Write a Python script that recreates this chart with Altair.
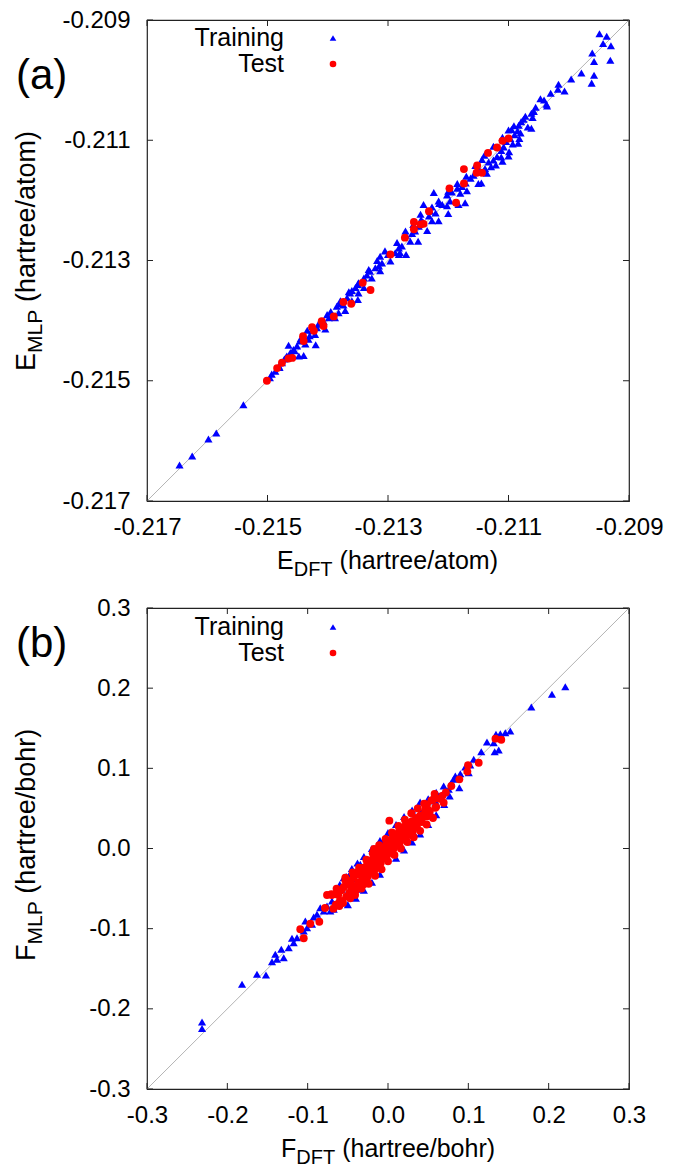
import altair as alt
import pandas as pd

FONT = "Liberation Sans"

# ---------------- Panel (a): energies (hartree/atom) ----------------
e_train_dft = [
    -0.20949, -0.20937, -0.20943, -0.20930, -0.20961, -0.20958, -0.20931, -0.20979, -0.20958, -0.20996,
    -0.20962, -0.21017, -0.21018, -0.21007, -0.21047, -0.21041, -0.21037, -0.21036, -0.21058, -0.21062,
    -0.21060, -0.21072, -0.21079, -0.21083, -0.21068, -0.21062, -0.21091, -0.21100, -0.21085, -0.21080,
    -0.21090, -0.21097, -0.21082, -0.21104, -0.21093, -0.21084, -0.21108, -0.21112, -0.21099, -0.21100,
    -0.21119, -0.21125, -0.21112, -0.21133, -0.21144, -0.21121, -0.21129, -0.21139, -0.21148, -0.21136,
    -0.21158, -0.21163, -0.21145, -0.21171, -0.21177, -0.21185, -0.21169, -0.21194, -0.21180, -0.21202,
    -0.21224, -0.21241, -0.21227, -0.21216, -0.21210, -0.21202, -0.21197, -0.21183, -0.21172, -0.21221,
    -0.21232, -0.21246, -0.21216, -0.21227, -0.21241, -0.21249, -0.21235, -0.21255, -0.21260, -0.21271,
    -0.21263, -0.21277, -0.21282, -0.21280, -0.21288, -0.21305, -0.21282, -0.21313, -0.21296, -0.21310,
    -0.21315, -0.21321, -0.21313, -0.21332, -0.21335, -0.21327, -0.21340, -0.21349, -0.21354, -0.21340,
    -0.21360, -0.21363, -0.21349, -0.21368, -0.21379, -0.21360, -0.21374, -0.21385, -0.21371, -0.21382,
    -0.21388,
    -0.21401, -0.21398, -0.21407, -0.21412, -0.21418, -0.21404, -0.21426, -0.21434, -0.21421, -0.21440,
    -0.21432, -0.21446, -0.21451, -0.21437, -0.21465, -0.21457, -0.21448, -0.21462, -0.21468, -0.21472,
    -0.21476, -0.21481, -0.21487, -0.21493, -0.21496, -0.21540, -0.21585, -0.21598, -0.21625, -0.21646,
    -0.21480, -0.21470, -0.21455, -0.21445, -0.21430, -0.21415, -0.21395, -0.21380, -0.21365, -0.21350,
    -0.21330, -0.21318, -0.21300, -0.21285, -0.21270, -0.21258, -0.21245, -0.21230, -0.21215, -0.21200,
    -0.21185, -0.21170, -0.21155, -0.21140, -0.21125, -0.21110, -0.21095, -0.21075, -0.21055, -0.21030,
    -0.21420, -0.21350, -0.21270, -0.21200, -0.21150, -0.21110, -0.21250, -0.21440,
]
e_train_mlp = [
    -0.20923, -0.20927, -0.20939, -0.20943, -0.20955, -0.20969, -0.20967, -0.20988, -0.20992, -0.20998,
    -0.21005, -0.21007, -0.21015, -0.21018, -0.21031, -0.21033, -0.21040, -0.21043, -0.21052, -0.21055,
    -0.21062, -0.21060, -0.21069, -0.21075, -0.21078, -0.21080, -0.21076, -0.21083, -0.21084, -0.21088,
    -0.21091, -0.21097, -0.21097, -0.21102, -0.21106, -0.21105, -0.21111, -0.21117, -0.21119, -0.21126,
    -0.21127, -0.21133, -0.21128, -0.21136, -0.21132, -0.21141, -0.21144, -0.21147, -0.21150, -0.21155,
    -0.21158, -0.21163, -0.21171, -0.21171, -0.21177, -0.21180, -0.21184, -0.21186, -0.21188, -0.21191,
    -0.21187, -0.21207, -0.21211, -0.21201, -0.21207, -0.21209, -0.21201, -0.21207, -0.21204, -0.21221,
    -0.21226, -0.21223, -0.21234, -0.21234, -0.21237, -0.21243, -0.21250, -0.21251, -0.21255, -0.21251,
    -0.21268, -0.21276, -0.21279, -0.21287, -0.21287, -0.21284, -0.21290, -0.21293, -0.21301, -0.21304,
    -0.21309, -0.21312, -0.21317, -0.21315, -0.21324, -0.21329, -0.21329, -0.21337, -0.21345, -0.21345,
    -0.21350, -0.21354, -0.21354, -0.21362, -0.21367, -0.21367, -0.21374, -0.21376, -0.21383, -0.21387,
    -0.21395,
    -0.21390, -0.21395, -0.21401, -0.21406, -0.21412, -0.21414, -0.21417, -0.21416, -0.21423, -0.21426,
    -0.21431, -0.21434, -0.21442, -0.21439, -0.21441, -0.21448, -0.21459, -0.21453, -0.21459, -0.21464,
    -0.21470, -0.21476, -0.21484, -0.21489, -0.21495, -0.21540, -0.21587, -0.21597, -0.21625, -0.21640,
    -0.21478, -0.21462, -0.21450, -0.21430, -0.21425, -0.21405, -0.21385, -0.21372, -0.21352, -0.21340,
    -0.21318, -0.21300, -0.21290, -0.21270, -0.21258, -0.21240, -0.21232, -0.21218, -0.21205, -0.21185,
    -0.21172, -0.21160, -0.21142, -0.21125, -0.21110, -0.21095, -0.21082, -0.21065, -0.21045, -0.21022,
    -0.21440, -0.21365, -0.21290, -0.21222, -0.21172, -0.21135, -0.21268, -0.21458,
]
e_test_dft = [
    -0.21100, -0.21110, -0.21119, -0.21134, -0.21152, -0.21174, -0.21153, -0.21144, -0.21174, -0.21198,
    -0.21187, -0.21232, -0.21257, -0.21246, -0.21241, -0.21257, -0.21272, -0.21296, -0.21342, -0.21329,
    -0.21374, -0.21361, -0.21390,
    -0.21407, -0.21410, -0.21423, -0.21426, -0.21441, -0.21440, -0.21459, -0.21465, -0.21476, -0.21484,
    -0.21501,
]
e_test_mlp = [
    -0.21097, -0.21101, -0.21112, -0.21121, -0.21142, -0.21148, -0.21154, -0.21154, -0.21172, -0.21180,
    -0.21204, -0.21218, -0.21236, -0.21240, -0.21239, -0.21248, -0.21262, -0.21290, -0.21337, -0.21349,
    -0.21369, -0.21372, -0.21393,
    -0.21409, -0.21401, -0.21417, -0.21411, -0.21426, -0.21434, -0.21462, -0.21463, -0.21470, -0.21479,
    -0.21500,
]
e_ticks = [-0.217, -0.215, -0.213, -0.211, -0.209]

# ---------------- Panel (b): forces (hartree/bohr) ----------------
f_train_dft = [
    0.2207, 0.2041, 0.1784, 0.1522, 0.1460, 0.1398, 0.1344, 0.1232, 0.1316, 0.1378,
    0.1328, 0.1161, 0.1067, 0.1024, 0.0962, 0.1005, 0.0900, 0.0838, 0.0818, 0.0788,
    0.0888, 0.0756, 0.0693, 0.0706, 0.0768, 0.0639, 0.0589, 0.0548, 0.0507, 0.0464,
    0.0402, 0.0340, 0.0361, 0.0299, 0.0258,
    -0.1817, -0.1631, -0.1519, -0.1444, -0.1382, -0.1298, -0.1403, -0.1328, -0.1236, -0.1174,
    -0.1195, -0.1133, -0.1049, -0.1008, -0.1029, -0.0946, -0.0925, -0.0884, -0.0843, -0.0800,
    -0.0759, -0.0697, -0.0718, -0.0676, -0.0635, -0.0573, -0.0551, -0.0489, -0.0386, -0.0345,
    -0.0240, -0.0075, 0.0009, 0.0112, 0.0320, -0.2315, -0.2315,
    -0.0450, -0.0300, -0.0150, 0.0000, 0.0150, 0.0300, 0.0450, -0.0620, 0.0560, -0.0050,
    -0.0600, -0.0520, -0.0450, -0.0380, -0.0300, -0.0200, -0.0100, 0.0000, 0.0100, 0.0200,
    0.0300, 0.0400, 0.0500, 0.0600, 0.0100, 0.0200, 0.0300, 0.0400, 0.0500, 0.0600,
    0.0700, -0.0100, -0.0200, -0.0300, -0.0400, -0.0500,
]
f_train_mlp = [
    0.2018, 0.1923, 0.1765, 0.1466, 0.1444, 0.1432, 0.1425, 0.1328, 0.1320, 0.1229,
    0.1207, 0.1207, 0.1113, 0.1042, 0.1017, 0.0946, 0.0933, 0.0904, 0.0863, 0.0821,
    0.0758, 0.0738, 0.0780, 0.0696, 0.0655, 0.0655, 0.0593, 0.0418, 0.0405, 0.0509,
    0.0447, 0.0384, 0.0259, 0.0239, 0.0094,
    -0.1694, -0.1569, -0.1578, -0.1412, -0.1382, -0.1362, -0.1320, -0.1257, -0.1237, -0.1175,
    -0.1120, -0.1113, -0.1029, -0.0988, -0.0904, -0.0946, -0.0854, -0.0821, -0.0738, -0.0780,
    -0.0717, -0.0655, -0.0780, -0.0758, -0.0551, -0.0509, -0.0364, -0.0343, -0.0509, -0.0197,
    -0.0156, 0.0072, 0.0094, 0.0156, 0.0197, -0.2164, -0.2245,
    -0.0380, -0.0240, -0.0090, 0.0060, 0.0200, 0.0350, 0.0500, -0.0520, 0.0610, 0.0040,
    -0.0450, -0.0350, -0.0250, -0.0180, -0.0100, 0.0000, 0.0100, 0.0200, 0.0300, 0.0400,
    0.0480, 0.0580, 0.0620, 0.0700, -0.0120, -0.0020, 0.0080, 0.0180, 0.0300, 0.0420,
    0.0550, -0.0320, -0.0420, -0.0520, -0.0620, -0.0700,
]
f_test_dft = [
    0.1410, 0.1129, 0.0996, 0.0888, 0.0788, 0.0693, 0.0569, 0.0589, 0.0485, 0.0464,
    -0.1092, -0.1049, -0.0967, -0.0855, -0.0759, -0.0706, -0.0573, -0.0606, -0.0531, -0.0407,
    -0.0302, 0.0017, -0.0784, -0.0656, -0.0174, 0.0988, 0.1338,
    -0.058, -0.062, -0.065, -0.060, -0.055, -0.052, -0.050, -0.048, -0.046, -0.045,
    -0.043, -0.042, -0.040, -0.038, -0.037, -0.035, -0.034, -0.032, -0.030, -0.029,
    -0.028, -0.026, -0.025, -0.024, -0.022, -0.021, -0.020, -0.018, -0.017, -0.016,
    -0.014, -0.013, -0.012, -0.010, -0.009, -0.008, -0.006, -0.005, -0.004, -0.002,
    -0.001, 0.000, 0.002, 0.003, 0.004, 0.006, 0.007, 0.008, 0.010, 0.011,
    0.012, 0.014, 0.015, 0.016, 0.018, 0.019, 0.020, 0.022, 0.023, 0.024,
    0.026, 0.027, 0.028, 0.030, 0.031, 0.033, 0.035, 0.036, 0.038, 0.040,
    0.042, 0.044, 0.046, 0.048, 0.050, 0.052,
    -0.070, -0.068, -0.064, -0.056, -0.053, -0.047, -0.044, -0.041, -0.036, -0.033,
    -0.027, -0.024, -0.019, -0.016, -0.011, -0.008, -0.003, 0.000, 0.005, 0.008,
    0.013, 0.016, 0.021, 0.024, 0.029, 0.032, 0.037, 0.040, 0.045, 0.048,
    0.054, 0.056, 0.060, 0.064, 0.068, 0.072, 0.058,
]
f_test_mlp = [
    0.1357, 0.1070, 0.1038, 0.0863, 0.0780, 0.0571, 0.0614, 0.0509, 0.0551, 0.0489,
    -0.1008, -0.1120, -0.0938, -0.0913, -0.0580, -0.0571, -0.0655, -0.0717, -0.0364, -0.0302,
    -0.0447, 0.0347, -0.0742, -0.0568, -0.0006, 0.0959, 0.1370,
    -0.052, -0.058, -0.070, -0.066, -0.048, -0.060, -0.045, -0.055, -0.040, -0.050,
    -0.036, -0.047, -0.052, -0.032, -0.042, -0.030, -0.045, -0.036, -0.024, -0.040,
    -0.030, -0.020, -0.035, -0.026, -0.015, -0.030, -0.022, -0.012, -0.027, -0.018,
    -0.008, -0.022, -0.014, -0.004, -0.018, -0.010, 0.001, -0.012, -0.006, 0.006,
    -0.008, -0.002, 0.010, -0.004, 0.002, 0.014, 0.000, 0.006, 0.018, 0.004,
    0.010, 0.022, 0.008, 0.014, 0.026, 0.012, 0.018, 0.029, 0.015, 0.022,
    0.032, 0.018, 0.026, 0.034, 0.022, 0.030, 0.038, 0.027, 0.034, 0.041,
    0.033, 0.040, 0.045, 0.040, 0.048, 0.046,
    -0.058, -0.075, -0.050, -0.068, -0.040, -0.062, -0.030, -0.058, -0.024, -0.050,
    -0.014, -0.044, -0.006, -0.034, 0.004, -0.026, 0.012, -0.016, 0.020, -0.008,
    0.028, 0.000, 0.036, 0.008, 0.044, 0.014, 0.050, 0.022, 0.056, 0.030,
    0.060, 0.038, 0.052, 0.062, 0.066, 0.070, 0.068,
]
f_ticks = [-0.3, -0.2, -0.1, 0.0, 0.1, 0.2, 0.3]

W, H = 482, 481
TICK = 6
ONE = pd.DataFrame({"k": [0]})
TRI_SIZE = 66
CIR_SIZE = 62


def text(txt, x, y, size, angle=0, align="left"):
    return alt.Chart(ONE).mark_text(
        text=txt, font=FONT, fontSize=size, color="black",
        align=align, baseline="alphabetic", angle=angle,
    ).encode(x=alt.value(x), y=alt.value(y))


def panel(tx, ty, sx, sy, ticks, fmt, label, label_y, leg_y, xtitle, ytitle):
    lo, hi = ticks[0], ticks[-1]
    xs = alt.Scale(domain=[lo, hi], nice=False, zero=False)
    ys = alt.Scale(domain=[lo, hi], nice=False, zero=False)
    common = dict(values=ticks, format=fmt, tickSize=0, domain=False, grid=False,
                  labelFont=FONT, labelFontSize=24, labelColor="black",
                  labelFlush=False, labelOverlap=False, title=None,
                  labelExpr="replace(datum.label, '\u2212', '-')")
    ax = alt.Axis(labelPadding=14, **common)
    ay = alt.Axis(labelPadding=17, **common)
    X = lambda f: alt.X(f, scale=xs, axis=ax)
    Y = lambda f: alt.Y(f, scale=ys, axis=ay)

    diag = alt.Chart(pd.DataFrame({"x": [lo, hi], "y": [lo, hi]})).mark_line(
        color="#b4b4b4", strokeWidth=1).encode(x=X("x:Q"), y=Y("y:Q"))

    tdf = pd.DataFrame({"v": ticks})
    rule = dict(color="#222222", strokeWidth=1)
    t_bot = alt.Chart(tdf).mark_rule(**rule).encode(x=X("v:Q"), y=alt.value(H), y2=alt.value(H - TICK))
    t_top = alt.Chart(tdf).mark_rule(**rule).encode(x=X("v:Q"), y=alt.value(0), y2=alt.value(TICK))
    t_lft = alt.Chart(tdf).mark_rule(**rule).encode(y=Y("v:Q"), x=alt.value(0), x2=alt.value(TICK))
    t_rgt = alt.Chart(tdf).mark_rule(**rule).encode(y=Y("v:Q"), x=alt.value(W), x2=alt.value(W - TICK))

    train = alt.Chart(pd.DataFrame({"x": tx, "y": ty})).mark_point(
        shape="triangle-up", filled=True, color="#0000ff", size=TRI_SIZE, opacity=1, strokeWidth=0
    ).encode(x=X("x:Q"), y=Y("y:Q"))
    test = alt.Chart(pd.DataFrame({"x": sx, "y": sy})).mark_circle(
        color="#ff0000", size=CIR_SIZE, opacity=1
    ).encode(x=X("x:Q"), y=Y("y:Q"))

    l1, l2 = leg_y
    leg = [
        text("Training", 137, l1 + 8, 25, align="right"),
        text("Test", 137, l2 + 8, 25, align="right"),
        alt.Chart(ONE).mark_point(shape="triangle-up", filled=True, color="#0000ff",
                                  size=44, opacity=1, strokeWidth=0).encode(
            x=alt.value(186), y=alt.value(l1)),
        alt.Chart(ONE).mark_circle(color="#ff0000", size=44, opacity=1).encode(
            x=alt.value(186), y=alt.value(l2)),
    ]

    xm, xs_, xu, xstart = xtitle
    xt = [
        text(xm, xstart[0], H + 68, 25),
        text(xs_, xstart[1], H + 75, 20),
        text(xu, xstart[2], H + 68, 25),
    ]
    ym, ys_, yu, ystart = ytitle
    yt = [
        text(ym, -112, ystart[0], 27, angle=270),
        text(ys_, -105, ystart[1], 21, angle=270),
        text(yu, -112, ystart[2], 27, angle=270),
    ]
    lab = text(label, -131, label_y, 42)

    return alt.layer(diag, t_bot, t_top, t_lft, t_rgt, train, test, *leg, *xt, *yt, lab).properties(
        width=W, height=H)


pa = panel(e_train_dft, e_train_mlp, e_test_dft, e_test_mlp, e_ticks, ".3f",
           "(a)", 69, (18, 44),
           ("E", "DFT", "(hartree/atom)", (130, 146.7, 192.6)),
           ("E", "MLP", "(hartree/atom)", (351, 333, 282)))
pb = panel(f_train_dft, f_train_mlp, f_test_dft, f_test_mlp, f_ticks, ".1f",
           "(b)", 49, (19, 45),
           ("F", "DFT", "(hartree/bohr)", (134, 149.3, 195.2)),
           ("F", "MLP", "(hartree/bohr)", (353, 336.5, 285.8)))

chart = alt.vconcat(pa, pb, spacing=14).configure_view(
    stroke="#222222", strokeWidth=1.2
).properties(
    padding={"left": 12, "top": 7, "right": 5, "bottom": 0},
    background="white",
)

chart.save("out.html", embed_options={"renderer": "svg", "actions": False})
